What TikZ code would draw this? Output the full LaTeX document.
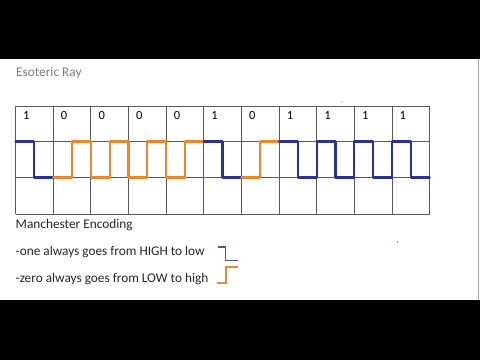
\documentclass[tikz,border=0pt]{standalone}
\usepackage{fontspec}
\setmainfont{Carlito}
\definecolor{sigblue}{HTML}{2B3391}
\definecolor{sigorange}{HTML}{E8872F}
\definecolor{keyblue}{HTML}{4A5A8C}
\definecolor{keyorange}{HTML}{D98F48}
\definecolor{titlegray}{HTML}{7F7F7F}
\definecolor{gridgray}{HTML}{5A5A5A}
\tikzset{
  gridline/.style={draw=gridgray, line width=0.8pt},
  sig/.style={line width=2.2pt, line join=round, line cap=round},
  keyline/.style={line width=1.6pt, line join=miter},
  txt/.style={anchor=base west, inner sep=0pt, font=\fontsize{13.3}{15}\selectfont},
  bit/.style={anchor=base west, inner sep=0pt, font=\fontsize{12.5}{14}\selectfont}
}
\begin{document}
\begin{tikzpicture}[x=1pt,y=-1pt]
\useasboundingbox (0,0) rectangle (480,360);
\fill[white] (0,0) rectangle (480,360);
\fill[black] (0,0) rectangle (480,59);
\fill[black] (0,300) rectangle (480,360);
\draw[gray!70, line width=0.8pt] (478.5,59) -- (478.5,300);
% title
\node[txt, text=titlegray] (title) at (16,76.5) {Esoteric Ray};
% grid
\foreach \r in {106,141.5,177.5,214}{
  \draw[gridline] (15.5,\r) -- (429.65,\r);
}
\foreach \c in {0,...,11}{
  \draw[gridline] ({15.5+\c*37.65},106) -- ({15.5+\c*37.65},214);
}
% bit labels
\foreach \c/\t in {0/1,1/0,2/0,3/0,4/0,5/1,6/0,7/1,8/1,9/1,10/1}{
  \node[bit] (b\c) at ({15.5+\c*37.65+7.5},119) {\t};
}
% signal
\def\hi{141.5}
\def\lo{177.5}
\foreach \c/\b/\v in {0/1/0,1/0/0,2/0/1,3/0/1,4/0/1,5/1/0,6/0/0,7/1/0,8/1/1,9/1/1,10/1/1}{
  \pgfmathsetmacro{\L}{15.5+\c*37.65}
  \pgfmathsetmacro{\M}{\L+18.8}
  \pgfmathsetmacro{\R}{\L+37.65}
  \ifnum\b=1
    \ifnum\v=1
      \draw[sig, sigblue] (\L,\lo) -- (\L,\hi) -- (\M,\hi) -- (\M,\lo) -- (\R,\lo);
    \else
      \draw[sig, sigblue] (\L,\hi) -- (\M,\hi) -- (\M,\lo) -- (\R,\lo);
    \fi
  \else
    \ifnum\v=1
      \draw[sig, sigorange] (\L,\hi) -- (\L,\lo) -- (\M,\lo) -- (\M,\hi) -- (\R,\hi);
    \else
      \draw[sig, sigorange] (\L,\lo) -- (\M,\lo) -- (\M,\hi) -- (\R,\hi);
    \fi
  \fi
}
% captions
\node[txt, text=black!85] (head) at (15.5,228) {Manchester Encoding};
\node[txt, text=black!85] (one) at (15.5,255) {-one always goes from HIGH to low};
\node[txt, text=black!85] (zero) at (15.5,282) {-zero always goes from LOW to high};
% key symbols
\draw[keyline, keyblue] (217.5,247) -- (225.5,247) -- (225.5,260.5) -- (237.5,260.5);
\draw[keyline, keyorange] (216.5,283) -- (226,283) -- (226,267) -- (237.5,267);
% stray specks
\fill[gray] (342,102) circle (0.7);
\fill[sigorange] (397.5,242) circle (1.0);
\end{tikzpicture}
\end{document}
